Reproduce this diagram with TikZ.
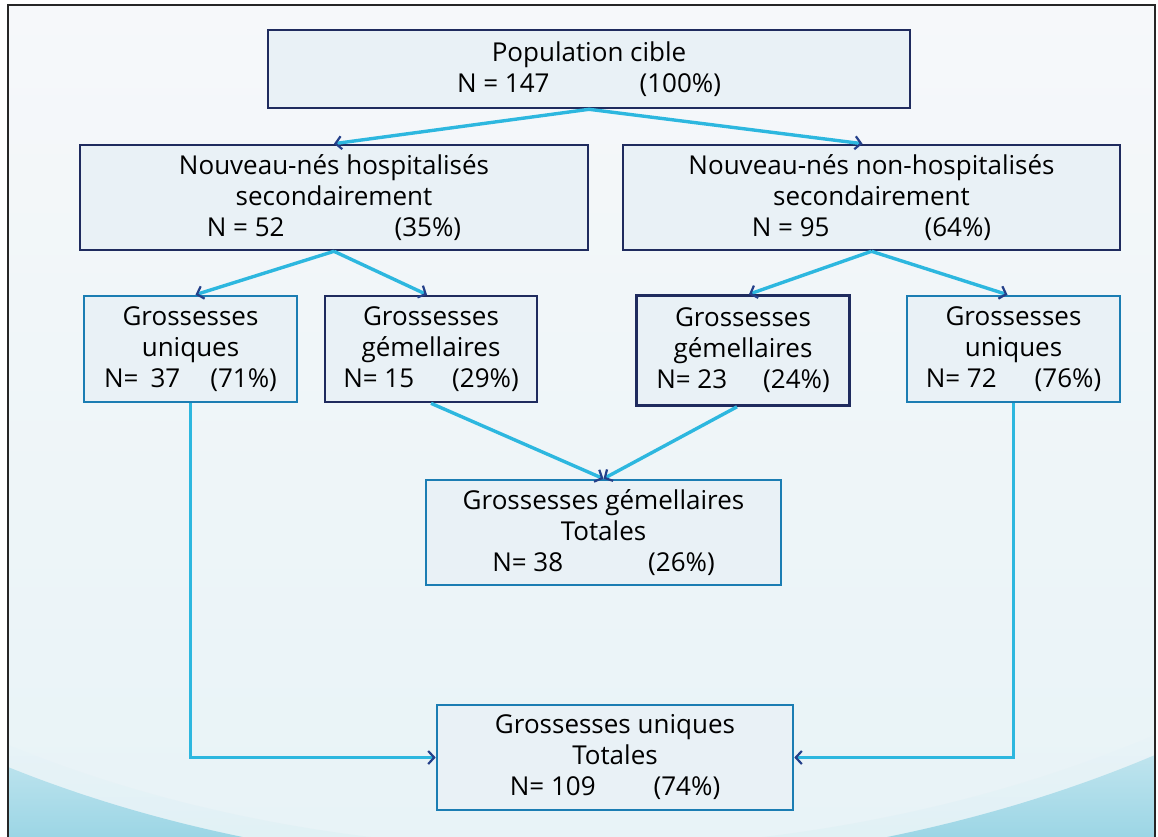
\documentclass[tikz,border=0pt]{standalone}
\usepackage{fontspec}
\setmainfont{Open Sans}
\usetikzlibrary{arrows.meta}

\definecolor{boxfill}{HTML}{E9F1F6}
\definecolor{boxnavy}{HTML}{1F2B5E}
\definecolor{boxteal}{HTML}{1B7DB3}
\definecolor{flowblue}{HTML}{2DB7DF}
\definecolor{tipnavy}{HTML}{24408A}
\definecolor{bgtop}{HTML}{F6F8FA}
\definecolor{bgbottom}{HTML}{E8F3F7}
\definecolor{wavelight}{HTML}{DCEFF4}
\definecolor{wavetop}{HTML}{BFE4EE}
\definecolor{wavebottom}{HTML}{7FCADE}

\tikzset{
  box/.style={draw=boxnavy, line width=2.6pt, fill=boxfill, align=center,
    inner sep=0pt, text=black, font=\fontsize{26}{31}\selectfont},
  tealbox/.style={box, draw=boxteal},
  flow/.style={draw=flowblue, line width=3.4pt,
    -{Straight Barb[length=6pt,width=13pt,line width=2.2pt,color=tipnavy]}}
}

\begin{document}
\begin{tikzpicture}[x=1pt, y=-1pt]
            \useasboundingbox (0, 0) rectangle (1158, 836);
            \fill[white] (0, 0) rectangle (1158, 836);
            \shade[top color=bgtop, bottom color=bgbottom] (8, 5) rectangle (1155, 836);
            \begin{scope}
                \clip (8, 5) rectangle (1155, 836);
                \shade[top color=bgbottom, bottom color=wavelight] (8, 745) .. controls (350, 885) and (800, 885) .. (1155, 735) -- (1155, 900) -- (8, 900) -- cycle;
                \shade[top color=wavetop, bottom color=wavebottom] (8, 767) .. controls (350, 905) and (800, 905) .. (1155, 755) -- (1155, 900) -- (8, 900) -- cycle;
            \end{scope}
            \draw[line width=2pt, black!85] (8, 850) -- (8, 5) -- (1155, 5) -- (1155, 850);

            \node[box, minimum width=642, minimum height=78] (pop) at (589, 69)
                {Population cible\\N = 147\hspace{90pt}(100\%)};
            \node[box, minimum width=508, minimum height=105] (hosp) at (334, 197.5)
                {Nouveau-nés hospitalisés\\secondairement\\N = 52\hspace{110pt}(35\%)};
            \node[box, minimum width=497, minimum height=105] (nonhosp) at (871.5, 197.5)
                {Nouveau-nés non-hospitalisés\\secondairement\\N = 95\hspace{95pt}(64\%)};

            \node[tealbox, minimum width=213, minimum height=106] (unil) at (190.5, 349)
                {Grossesses\\uniques\\N=\hspace{12pt}37\hspace{30pt}(71\%)};
            \node[box, minimum width=212, minimum height=106] (geml) at (431, 349)
                {Grossesses\\gémellaires\\N= 15\hspace{38pt}(29\%)};
            \node[box, minimum width=213, minimum height=110] (gemr) at (743, 350.5)
                {Grossesses\\gémellaires\\N= 23\hspace{36pt}(24\%)};
            \node[tealbox, minimum width=213, minimum height=106] (unir) at (1013.5, 349)
                {Grossesses\\uniques\\N= 72\hspace{38pt}(76\%)};

            \node[tealbox, minimum width=355, minimum height=105] (gemtot) at (603.5, 532.5)
                {Grossesses gémellaires\\Totales\\N= 38\hspace{85pt}(26\%)};
            \node[tealbox, minimum width=356, minimum height=105] (unitot) at (615, 757.5)
                {Grossesses uniques\\Totales\\N= 109\hspace{58pt}(74\%)};

            \draw[flow] (pop.south) -- (hosp.north);
            \draw[flow] (pop.south) -- ([xshift=-9pt]nonhosp.north);
            \draw[flow] (hosp.south) -- ([xshift=5pt]unil.north);
            \draw[flow] (hosp.south) -- ([xshift=-4pt]geml.north);
            \draw[flow] (nonhosp.south) -- ([xshift=6pt]gemr.north);
            \draw[flow] (nonhosp.south) -- ([xshift=-6pt]unir.north);
            \draw[flow] (geml.south) -- (gemtot.north);
            \draw[flow] ([xshift=-6pt]gemr.south) -- (gemtot.north);
            \draw[flow] (unil.south) |- (unitot.west);
            \draw[flow] (unir.south) |- (unitot.east);

            %\draw[lightgray] (0, 0) grid[step=50] (1158, 836);
        \end{tikzpicture}
\end{document}
